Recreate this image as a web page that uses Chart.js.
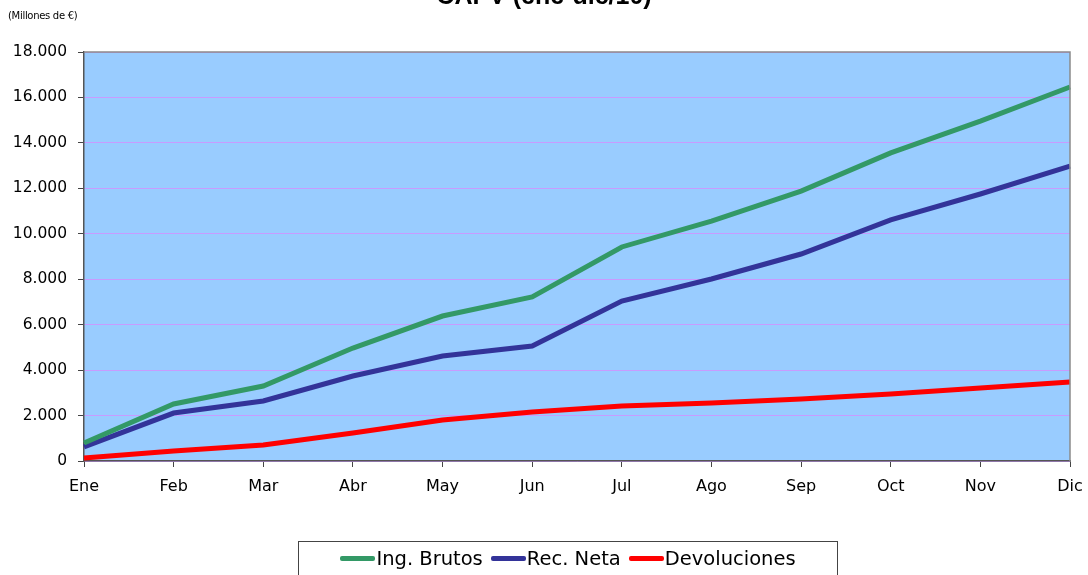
<!DOCTYPE html>
<html>
<head>
<meta charset="utf-8">
<script src="https://cdn.jsdelivr.net/npm/chart.js@4/dist/chart.umd.min.js"></script>
<style>
  html,body{margin:0;padding:0;background:#fff;overflow:hidden}
  #wrap{position:relative;width:1088px;height:575px;font-family:"DejaVu Sans",sans-serif}
  #titulo{position:absolute;left:0;width:1088px;top:-19px;text-align:center;font:bold 25px "Liberation Sans",Arial,sans-serif;color:#000}
  #unidad{position:absolute;left:8px;top:10px;font-size:10px;color:#000;letter-spacing:-0.3px}
  #leyenda{position:absolute;left:298px;top:541px;width:540px;height:40px;border:1px solid #444;box-sizing:border-box;
    display:flex;justify-content:center;align-items:flex-start;padding-top:5px;font-size:19.5px;color:#000}
  #leyenda span{display:inline-flex;align-items:center;margin:0 4px}
  #leyenda i{display:inline-block;width:35px;height:5px;border-radius:2px;margin-right:1px}
</style>
</head>
<body>
<div id="wrap">
  <canvas id="ch" width="1088" height="575"></canvas>
  <div id="titulo">CAPV (ene-dic/10)</div>
  <div id="unidad">(Millones de €)</div>
  <div id="leyenda"></div>
</div>
<script>
/* ---- datos (millones de €) ---- */
const meses = ['Ene','Feb','Mar','Abr','May','Jun','Jul','Ago','Sep','Oct','Nov','Dic'];
const ingBrutos    = [790, 2510, 3300, 4970, 6380, 7220, 9420, 10560, 11880, 13560, 14960, 16460];
const recNeta      = [620, 2110, 2640, 3740, 4620, 5060, 7040, 8010, 9110, 10610, 11750, 12980];
const devoluciones = [130, 440, 700, 1230, 1800, 2160, 2420, 2550, 2730, 2950, 3210, 3480];

const series = [
  {label:'Ing. Brutos', data:ingBrutos, color:'#339966'},
  {label:'Rec. Neta', data:recNeta, color:'#333399'},
  {label:'Devoluciones', data:devoluciones, color:'#FF0000'}
];

/* fondo azul del área de trazado + marco gris */
const fondo = {
  id:'fondo',
  beforeDraw(c){
    const a = c.chartArea, x = c.ctx;
    x.save();
    x.fillStyle = '#99CCFF';
    x.fillRect(a.left, a.top, a.right-a.left, a.bottom-a.top);
    x.restore();
  },
  afterDatasetsDraw(c){
    const a = c.chartArea, x = c.ctx;
    x.save();
    x.strokeStyle = '#8a8a8a'; x.lineWidth = 1.5;
    x.beginPath();
    x.moveTo(a.left, a.top); x.lineTo(a.right, a.top); x.lineTo(a.right, a.bottom);
    x.stroke();
    x.restore();
  }
};

const fuente = {family:'"DejaVu Sans", sans-serif', size:15};

new Chart(document.getElementById('ch'), {
  type:'line',
  data:{labels:meses, datasets:series.map(s=>({
    label:s.label, data:s.data, borderColor:s.color, backgroundColor:s.color,
    borderWidth:5, pointRadius:0, tension:0, borderCapStyle:'butt', clip:false
  }))},
  options:{
    responsive:false, animation:false,
    layout:{padding:{top:52, right:18, left:0, bottom:0}},
    plugins:{legend:{display:false}, tooltip:{enabled:false}},
    scales:{
      x:{
        offset:false,
        grid:{drawOnChartArea:false, drawTicks:true, tickLength:6, tickColor:'#444', tickWidth:1},
        border:{color:'#555', width:1.5},
        ticks:{color:'#000', font:{...fuente, size:16}, padding:10, maxRotation:0, autoSkip:false},
        afterFit(s){ s.height = 114; s.paddingLeft = 0; s.paddingRight = 0; }
      },
      y:{
        min:0, max:18000,
        ticks:{stepSize:2000, color:'#000', font:{...fuente, size:15.5}, padding:11,
          callback:v => v.toLocaleString('de-DE')},
        grid:{color:'#C89BFF', lineWidth:1, drawTicks:true, tickLength:6, tickColor:'#444'},
        border:{color:'#555', width:1.5},
        afterFit(s){ s.width = 84; s.paddingTop = 0; s.paddingBottom = 0; }
      }
    }
  },
  plugins:[fondo]
});

/* ---- leyenda HTML con marco ---- */
document.getElementById('leyenda').innerHTML = series.map(s =>
  `<span><i style="background:${s.color}"></i>${s.label}</span>`).join('');
</script>
</body>
</html>
